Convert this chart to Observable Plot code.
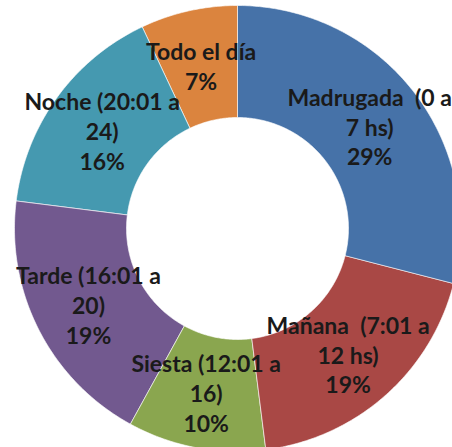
<!DOCTYPE html>
<html><head><meta charset="utf-8">
<script src="https://cdn.jsdelivr.net/npm/d3@7"></script>
<script src="https://cdn.jsdelivr.net/npm/@observablehq/plot@0.6"></script>
<style>html,body{margin:0;padding:0;background:#fff;overflow:hidden}</style>
</head><body><div id="chart"></div>
<script>
const categorias = ["Madrugada\u00a0 (0 a\n7 hs)", "Mañana\u00a0 (7:01 a\n12 hs)", "Siesta (12:01 a\n16)", "Tarde (16:01 a\n20)", "Noche (20:01 a\n24)", "Todo el día"];
const porcentajes = [29, 19, 10, 19, 16, 7];
const colores = ["#4672A8", "#A94845", "#8AA64F", "#72598F", "#4599B0", "#DB843E"];

const W = 452, H = 447;
const cx = 237, cy = 228, R = 223, r = 111;
const total = d3.sum(porcentajes);
let acc = 0;
const slices = porcentajes.map((v, i) => {
  const a0 = acc / total * 2 * Math.PI; acc += v;
  const a1 = acc / total * 2 * Math.PI;
  return {cat: categorias[i], v, a0, a1, mid: (a0 + a1) / 2};
});
const rin = r / R;
const pts = [];
for (const s of slices) {
  const n = Math.max(8, Math.ceil((s.a1 - s.a0) * 90));
  for (let k = 0; k <= n; k++) { const a = s.a0 + (s.a1 - s.a0) * k / n; pts.push({cat: s.cat, x: Math.sin(a), y: Math.cos(a)}); }
  for (let k = n; k >= 0; k--) { const a = s.a0 + (s.a1 - s.a0) * k / n; pts.push({cat: s.cat, x: rin * Math.sin(a), y: rin * Math.cos(a)}); }
}
const lr = 0.75;
const chart = Plot.plot({
  width: W, height: H,
  margin: 0,
  x: {domain: [-cx / R, (W - cx) / R], range: [0, W], axis: null},
  y: {domain: [-(H - cy) / R, cy / R], range: [H, 0], axis: null},
  color: {domain: categorias, range: colores},
  style: {background: "white"},
  marks: [
    Plot.line(pts, {x: "x", y: "y", z: "cat", fill: "cat", stroke: "white", strokeOpacity: 0.6, strokeWidth: 1, curve: "linear-closed"}),
    Plot.text(slices, {
      x: d => lr * Math.sin(d.mid), y: d => lr * Math.cos(d.mid),
      text: d => d.cat + "\n" + d.v + "%",
      fontSize: 23, fontWeight: "bold", fontFamily: "Lato", lineHeight: 1.3,
      fill: "#1a1a1a", textAnchor: "middle", lineAnchor: "middle"
    })
  ]
});
document.getElementById("chart").append(chart);
</script>
</body></html>
